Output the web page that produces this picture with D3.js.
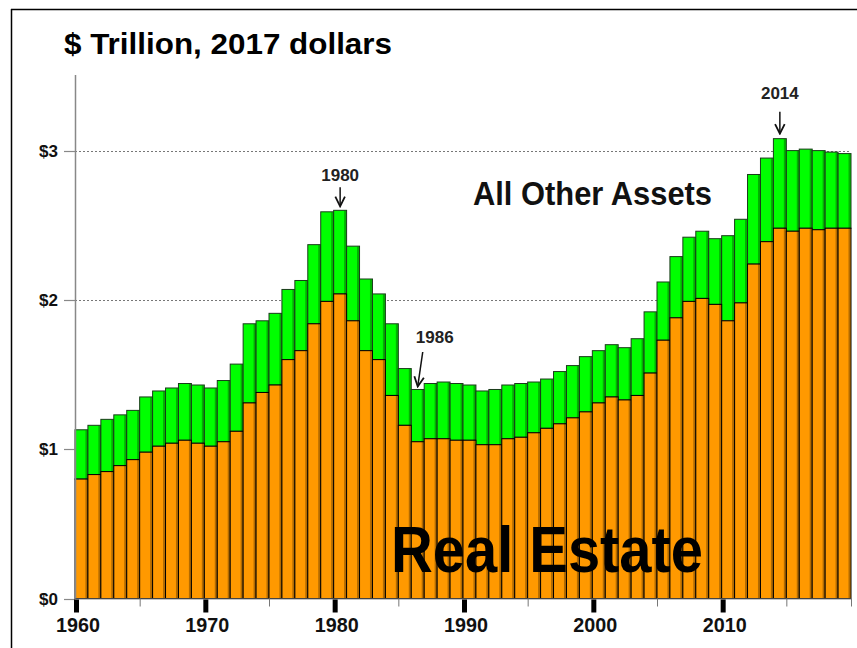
<!DOCTYPE html>
<html>
<head>
<meta charset="utf-8">
<script src="https://cdn.jsdelivr.net/npm/d3@7"></script>
<style>
  body { margin: 0; background: #fff; }
  svg { display: block; font-family: "Liberation Sans", Arial, sans-serif; }
</style>
</head>
<body>
<div id="chart"></div>
<script>
// years 1960..2019
var years = d3.range(1960, 2020);

// real estate, $ trillion (2017 dollars)
var realEstate = [
  0.80, 0.83, 0.85, 0.89, 0.93, 0.98, 1.02, 1.04, 1.06, 1.04,
  1.02, 1.05, 1.12, 1.31, 1.38, 1.43, 1.60, 1.66, 1.84, 1.99,
  2.04, 1.86, 1.66, 1.60, 1.36, 1.16, 1.05, 1.07, 1.07, 1.06,
  1.06, 1.03, 1.03, 1.07, 1.08, 1.11, 1.14, 1.17, 1.21, 1.25,
  1.31, 1.35, 1.33, 1.36, 1.51, 1.73, 1.88, 1.99, 2.01, 1.97,
  1.86, 1.98, 2.24, 2.39, 2.48, 2.46, 2.48, 2.47, 2.48, 2.48
];

// total assets, $ trillion (real estate + all other assets)
var totalAssets = [
  1.13, 1.16, 1.20, 1.23, 1.26, 1.35, 1.39, 1.41, 1.44, 1.43,
  1.41, 1.46, 1.57, 1.84, 1.86, 1.91, 2.07, 2.13, 2.37, 2.59,
  2.60, 2.36, 2.14, 2.04, 1.84, 1.54, 1.40, 1.44, 1.45, 1.44,
  1.43, 1.39, 1.40, 1.43, 1.44, 1.45, 1.47, 1.52, 1.56, 1.62,
  1.66, 1.70, 1.68, 1.74, 1.92, 2.12, 2.29, 2.42, 2.46, 2.41,
  2.43, 2.54, 2.84, 2.95, 3.08, 3.00, 3.01, 3.00, 2.99, 2.98
];

var yTicks = [0, 1, 2, 3];
var yTickLabels = ["$0", "$1", "$2", "$3"];
var gridValues = [2, 3];
var decadeTicks = [1960, 1970, 1980, 1990, 2000, 2010];
var minorTicks = [1965, 1975, 1985, 1995, 2005, 2015, 2020];

var annotations = [
  { year: 1980, label: "1980" },
  { year: 1986, label: "1986" },
  { year: 2014, label: "2014" }
];

var W = 857, H = 648;

var data = years.map(function (y, i) {
  return { year: y, re: realEstate[i], total: totalAssets[i] };
});

var x = d3.scaleLinear().domain([1960, 2020]).range([75, 851]);
var y = d3.scaleLinear().domain([0, 3]).range([598.5, 150.6]);

var svg = d3.select("#chart").append("svg")
  .attr("width", W).attr("height", H);

// frame (top and left edges)
svg.append("line").attr("x1", 11).attr("x2", W).attr("y1", 9.5).attr("y2", 9.5)
  .attr("stroke", "#000").attr("stroke-width", 1.5);
svg.append("line").attr("x1", 11.5).attr("x2", 11.5).attr("y1", 9).attr("y2", H)
  .attr("stroke", "#000").attr("stroke-width", 1.5);

// title
svg.append("text")
  .attr("x", 64).attr("y", 54)
  .attr("font-size", 30).attr("font-weight", "bold")
  .attr("textLength", 328).attr("lengthAdjust", "spacingAndGlyphs")
  .text("$ Trillion, 2017 dollars");

// dotted gridlines
svg.selectAll("line.grid")
  .data(gridValues)
  .enter().append("line")
  .attr("class", "grid")
  .attr("x1", x(1960)).attr("x2", x(2020))
  .attr("y1", function (d) { return Math.round(y(d)) + 0.5; })
  .attr("y2", function (d) { return Math.round(y(d)) + 0.5; })
  .attr("stroke", "#777").attr("stroke-width", 1)
  .attr("stroke-dasharray", "2,2");

// bars
var bw = x(1961) - x(1960);
var bars = svg.append("g");

bars.selectAll("rect.other")
  .data(data)
  .enter().append("rect")
  .attr("class", "other")
  .attr("x", function (d) { return x(d.year); })
  .attr("width", bw)
  .attr("y", function (d) { return y(d.total); })
  .attr("height", function (d) { return y(d.re) - y(d.total); })
  .attr("fill", "#00FF00")
  .attr("stroke", "#1a3a1a").attr("stroke-width", 1);

bars.selectAll("rect.re")
  .data(data)
  .enter().append("rect")
  .attr("class", "re")
  .attr("x", function (d) { return x(d.year); })
  .attr("width", bw)
  .attr("y", function (d) { return y(d.re); })
  .attr("height", function (d) { return y(0) - y(d.re); })
  .attr("fill", "#FF9900")
  .attr("stroke", "#000").attr("stroke-width", 1);

// darker shading on the right side of each bar
bars.selectAll("rect.shade")
  .data(data)
  .enter().append("rect")
  .attr("class", "shade")
  .attr("x", function (d) { return x(d.year + 1) - 2.5; })
  .attr("width", 2)
  .attr("y", function (d) { return y(d.total) + 0.5; })
  .attr("height", function (d) { return y(0) - y(d.total) - 0.5; })
  .attr("fill", "#000").attr("opacity", 0.3);

// y axis
svg.append("line")
  .attr("x1", 75.5).attr("x2", 75.5).attr("y1", 75).attr("y2", y(0))
  .attr("stroke", "#888").attr("stroke-width", 1.5);

svg.selectAll("line.ytick")
  .data(yTicks)
  .enter().append("line")
  .attr("class", "ytick")
  .attr("x1", 64).attr("x2", 75)
  .attr("y1", function (d) { return Math.round(y(d)) + 0.5; })
  .attr("y2", function (d) { return Math.round(y(d)) + 0.5; })
  .attr("stroke", "#888").attr("stroke-width", 1.2);

svg.selectAll("text.ylab")
  .data(yTicks)
  .enter().append("text")
  .attr("class", "ylab")
  .attr("x", 58).attr("y", function (d) { return y(d) + 6; })
  .attr("text-anchor", "end")
  .attr("font-size", 17).attr("font-weight", "bold").attr("fill", "#111")
  .text(function (d, i) { return yTickLabels[i]; });

// x axis
svg.append("line")
  .attr("x1", 75).attr("x2", x(2020)).attr("y1", y(0) + 0.5).attr("y2", y(0) + 0.5)
  .attr("stroke", "#888").attr("stroke-width", 1.2);

svg.selectAll("rect.xmajor")
  .data(decadeTicks)
  .enter().append("rect")
  .attr("class", "xmajor")
  .attr("x", function (d) { return x(d) - 1; })
  .attr("width", 5)
  .attr("y", y(0) + 1).attr("height", 13)
  .attr("fill", "#000");

svg.selectAll("line.xminor")
  .data(minorTicks)
  .enter().append("line")
  .attr("class", "xminor")
  .attr("x1", function (d) { return x(d) + 0.5; })
  .attr("x2", function (d) { return x(d) + 0.5; })
  .attr("y1", y(0)).attr("y2", y(0) + 8)
  .attr("stroke", "#777").attr("stroke-width", 1);

svg.selectAll("text.xlab")
  .data(decadeTicks)
  .enter().append("text")
  .attr("class", "xlab")
  .attr("x", function (d) { return x(d) + 3; })
  .attr("y", 632)
  .attr("text-anchor", "middle")
  .attr("font-size", 20).attr("font-weight", "bold").attr("fill", "#111")
  .attr("textLength", 44).attr("lengthAdjust", "spacingAndGlyphs")
  .text(function (d) { return d; });

// series labels
svg.append("text")
  .attr("x", 473).attr("y", 205)
  .attr("font-size", 33).attr("font-weight", "bold").attr("fill", "#111")
  .attr("textLength", 239).attr("lengthAdjust", "spacingAndGlyphs")
  .text("All Other Assets");

svg.append("text")
  .attr("x", 391).attr("y", 572)
  .attr("font-size", 65).attr("font-weight", "bold").attr("fill", "#000")
  .attr("textLength", 312).attr("lengthAdjust", "spacingAndGlyphs")
  .text("Real Estate");

// annotations with arrows
var defs = svg.append("defs");
defs.append("marker")
  .attr("id", "arrow")
  .attr("viewBox", "0 0 10 10")
  .attr("refX", 9).attr("refY", 5)
  .attr("markerWidth", 8).attr("markerHeight", 8)
  .attr("orient", "auto")
  .append("path")
  .attr("d", "M1,1 L9,5 L1,9")
  .attr("fill", "none").attr("stroke", "#111").attr("stroke-width", 1.5);

annotations.forEach(function (a) {
  var d = data[years.indexOf(a.year)];
  var cx = x(a.year) + bw / 2;
  var top = y(d.total);
  var lx, ly, sx, sy, ex, ey;
  if (a.year === 1986) {
    lx = cx + 17; ly = 343;
    sx = cx + 5; sy = 352; ex = cx; ey = top - 3;
  } else if (a.year === 2014) {
    lx = cx; ly = top - 40;
    sx = cx; sy = top - 27; ex = cx; ey = top - 5;
  } else {
    lx = cx; ly = top - 29;
    sx = cx; sy = top - 23; ex = cx; ey = top - 4;
  }
  svg.append("text")
    .attr("x", lx).attr("y", ly)
    .attr("text-anchor", "middle")
    .attr("font-size", 17).attr("font-weight", "bold").attr("fill", "#222")
    .text(a.label);
  svg.append("line")
    .attr("x1", sx).attr("y1", sy).attr("x2", ex).attr("y2", ey)
    .attr("stroke", "#111").attr("stroke-width", 1.5)
    .attr("marker-end", "url(#arrow)");
});
</script>
</body>
</html>
